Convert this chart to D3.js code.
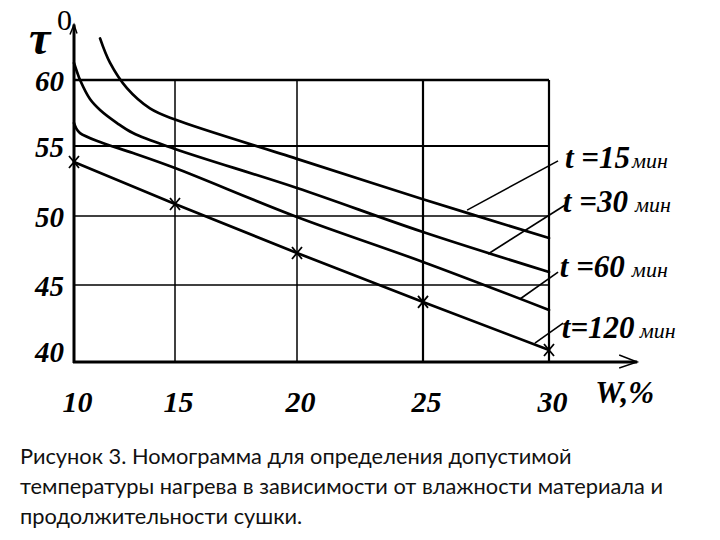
<!DOCTYPE html>
<html>
<head>
<meta charset="utf-8">
<script src="https://cdn.jsdelivr.net/npm/d3@7"></script>
<style>
  html, body { margin: 0; padding: 0; background: #fff; }
  svg { display: block; }
</style>
</head>
<body>
<svg id="chart" width="720" height="540"></svg>
<script>
// ---- data ----
const xTicks = [10, 15, 20, 25, 30];
const yTicks = [40, 45, 50, 55, 60];
const seriesNames = ["t =15", "t =30", "t =60", "t=120"];
const unitLabel = "мин";
const xAxisLabel = "W,%";
const yAxisLabel = "τ";
const yAxisSup = "0";

const w15 = [11.29, 11.78, 12.62, 13.76, 15.0, 20.0, 25.0, 30.0];
const t15 = [63.15, 61.31, 59.38, 57.85, 57.0, 54.08, 51.2, 48.4];
const w30 = [10.0, 10.15, 10.3, 10.79, 11.29, 12.13, 12.92, 15.0, 20.0, 25.0, 30.0];
const t30 = [61.29, 60.61, 60.0, 58.56, 57.73, 56.74, 55.98, 54.79, 52.0, 48.84, 45.94];
const w60 = [10.0, 10.1, 10.3, 11.29, 12.92, 15.0, 20.0, 25.0, 30.0];
const t60 = [56.74, 56.36, 55.98, 55.3, 54.5, 53.43, 49.93, 46.67, 43.38];
const w120 = [10, 15, 20, 25, 30];
const t120 = [53.86, 50.86, 47.32, 43.9, 40.78];

const captionLines = [
  "Рисунок 3. Номограмма для определения допустимой",
  "температуры нагрева в зависимости от влажности материала и",
  "продолжительности сушки."
];

// ---- scales (hand-drawn nomogram: piecewise linear) ----
const x = d3.scaleLinear().domain([10, 15, 20, 25, 30]).range([74, 175, 297, 423, 549]);
const y = d3.scaleLinear().domain([40, 45, 50, 55, 60]).range([362, 285, 216, 146, 80]);

const svg = d3.select("#chart");
const serif = "'Liberation Serif', 'Times New Roman', serif";

// ---- grid ----
const hW = {40: 0, 45: 1.4, 50: 1.4, 55: 2, 60: 2.6};
const vW = {10: 0, 15: 1.5, 20: 1.5, 25: 2.2, 30: 2.2};
svg.append("g").selectAll("line").data(yTicks.filter(d => d !== 40)).join("line")
  .attr("x1", x(10)).attr("x2", x(30))
  .attr("y1", d => y(d)).attr("y2", d => y(d))
  .attr("stroke", "#000").attr("stroke-width", d => hW[d]);
svg.append("g").selectAll("line").data(xTicks.filter(d => d !== 10)).join("line")
  .attr("x1", d => x(d)).attr("x2", d => x(d))
  .attr("y1", y(40)).attr("y2", y(60))
  .attr("stroke", "#000").attr("stroke-width", d => vW[d]);

// ---- axes lines with arrows ----
const yTop = 64.2, xEnd = 33.5;
svg.append("line").attr("x1", x(10)).attr("x2", x(10)).attr("y1", y(40) + 1).attr("y2", y(yTop))
  .attr("stroke", "#000").attr("stroke-width", 3);
svg.append("path")
  .attr("d", `M${x(10) - 4},${y(yTop) + 10} L${x(10)},${y(yTop)} L${x(10) + 3},${y(yTop) + 9}`)
  .attr("fill", "none").attr("stroke", "#000").attr("stroke-width", 1.5);
svg.append("line").attr("x1", x(10) - 1).attr("x2", x(xEnd)).attr("y1", y(40)).attr("y2", y(40))
  .attr("stroke", "#000").attr("stroke-width", 3.2);
svg.append("path")
  .attr("d", `M${x(xEnd) - 18},${y(40) - 7} L${x(xEnd)},${y(40)} L${x(xEnd) - 18},${y(40) + 6}`)
  .attr("fill", "none").attr("stroke", "#000").attr("stroke-width", 1.4);

// ---- tick labels via d3 axes ----
const xAx = svg.append("g").attr("transform", `translate(3,${y(40)})`)
  .call(d3.axisBottom(x).tickValues(xTicks).tickSize(0).tickFormat(d3.format("d")));
xAx.select(".domain").remove();
xAx.selectAll("text").attr("y", 50).attr("dy", null)
  .style("font-family", serif).style("font-weight", "bold").style("font-style", "italic")
  .style("font-size", "30px").attr("fill", "#000");

const yAx = svg.append("g").attr("transform", `translate(${x(10) - 10},0)`)
  .call(d3.axisLeft(y).tickValues(yTicks).tickSize(0).tickFormat(d3.format("d")));
yAx.select(".domain").remove();
yAx.selectAll(".tick").attr("transform", d => `translate(0,${Math.min(y(d) + 11, y(40))})`);
yAx.selectAll("text").attr("x", 0).attr("dy", null)
  .style("font-family", serif).style("font-weight", "bold").style("font-style", "italic")
  .style("font-size", "29px").attr("fill", "#000");

// axis titles
svg.append("text").attr("x", x(10) - 45).attr("y", y(yTop) + 29)
  .style("font-family", serif).style("font-weight", "bold").style("font-style", "italic")
  .style("font-size", "48px").text(yAxisLabel);
svg.append("text").attr("x", x(10) - 17).attr("y", y(yTop) + 5)
  .style("font-family", serif).style("font-size", "30px").text(yAxisSup);
svg.append("text").attr("x", x(xEnd) - 42).attr("y", y(40) + 41)
  .style("font-family", serif).style("font-weight", "bold").style("font-style", "italic")
  .style("font-size", "31px").text(xAxisLabel);

// ---- curves ----
const curveData = [
  w15.map((d, i) => [d, t15[i]]),
  w30.map((d, i) => [d, t30[i]]),
  w60.map((d, i) => [d, t60[i]]),
  w120.map((d, i) => [d, t120[i]])
];
const smooth = d3.line().x(d => x(d[0])).y(d => y(d[1])).curve(d3.curveCatmullRom.alpha(0.5));
const straight = d3.line().x(d => x(d[0])).y(d => y(d[1]));
svg.append("g").selectAll("path").data(curveData).join("path")
  .attr("d", (d, i) => i < 3 ? smooth(d) : straight(d))
  .attr("fill", "none").attr("stroke", "#000").attr("stroke-width", 2.7)
  .attr("stroke-linecap", "round");

// markers on t=120
svg.append("g").selectAll("path").data(curveData[3]).join("path")
  .attr("d", d => { const cx = x(d[0]), cy = y(d[1]);
    return `M${cx - 5},${cy - 6} L${cx + 5},${cy + 6} M${cx - 5},${cy + 6} L${cx + 5},${cy - 6}`; })
  .attr("stroke", "#000").attr("stroke-width", 1.8);

// ---- leader lines & labels ----
const leaderFrom = [[30.36, 53.94], [30.63, 50.77], [30.36, 45.94], [30.56, 42.53]];
const leaderTo   = [[26.75, 50.42], [27.58, 47.25], [28.85, 44.09], [29.44, 41.23]];
const labelW = [30.63, 30.55, 30.43, 30.51];
const labelT = [53.45, 50.28, 45.58, 41.56];
const unitGap = [2, 7, 7, 5];

svg.append("g").selectAll("line").data(leaderFrom).join("line")
  .attr("x1", d => x(d[0])).attr("y1", d => y(d[1]))
  .attr("x2", (d, i) => x(leaderTo[i][0])).attr("y2", (d, i) => y(leaderTo[i][1]))
  .attr("stroke", "#000").attr("stroke-width", 1.6);

const lab = svg.append("g").selectAll("text").data(seriesNames).join("text")
  .attr("x", (d, i) => x(labelW[i])).attr("y", (d, i) => y(labelT[i]))
  .style("font-family", serif);
lab.append("tspan").text(d => d)
  .style("font-weight", "bold").style("font-style", "italic").style("font-size", "31px");
lab.append("tspan").attr("dx", (d, i) => unitGap[i]).text(unitLabel)
  .style("font-style", "italic").style("font-size", "22px");

// ---- caption ----
const cap = svg.append("g").selectAll("text").data(captionLines).join("text")
  .attr("x", 20).attr("y", (d, i) => 464 + i * 30)
  .style("font-family", "Lato, 'Open Sans', sans-serif")
  .style("font-size", "20px").attr("fill", "#111").text(d => d);
const w0 = cap.nodes()[0].getComputedTextLength();
const fs = 20 * 552 / w0;
cap.style("font-size", fs + "px");
</script>
</body>
</html>
